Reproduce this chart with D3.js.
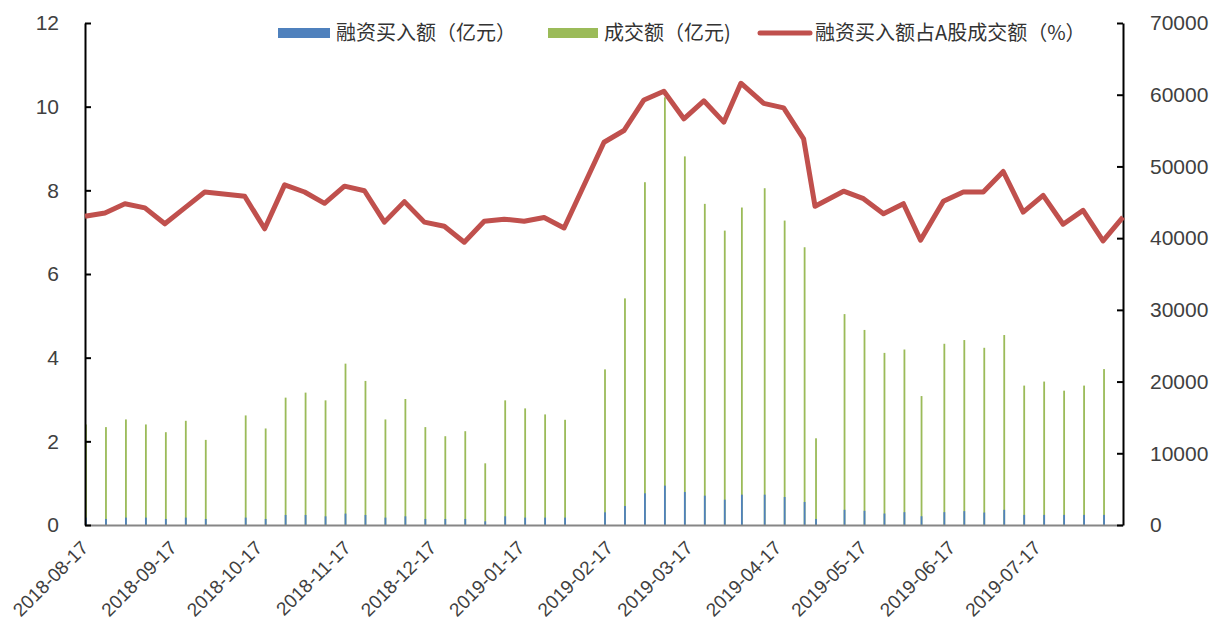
<!DOCTYPE html>
<html>
<head>
<meta charset="utf-8">
<script src="https://cdn.jsdelivr.net/npm/d3@7"></script>
<style>
  body { margin: 0; background: #fff; }
  svg { display: block; }
  .tick text { font-family: "Liberation Sans", Arial, sans-serif; fill: #404040; }
</style>
</head>
<body>
<div id="chart"></div>
<script>
// weekly data (Fridays, holiday weeks shifted / skipped)
var dates = ["2018-08-17","2018-08-24","2018-08-31","2018-09-07","2018-09-14","2018-09-21","2018-09-28",
  "2018-10-12","2018-10-19","2018-10-26","2018-11-02","2018-11-09","2018-11-16","2018-11-23","2018-11-30",
  "2018-12-07","2018-12-14","2018-12-21","2018-12-28","2019-01-04","2019-01-11","2019-01-18","2019-01-25","2019-02-01",
  "2019-02-15","2019-02-22","2019-03-01","2019-03-08","2019-03-15","2019-03-22","2019-03-29","2019-04-04","2019-04-12","2019-04-19","2019-04-26","2019-04-30",
  "2019-05-10","2019-05-17","2019-05-24","2019-05-31","2019-06-06","2019-06-14","2019-06-21","2019-06-28",
  "2019-07-05","2019-07-12","2019-07-19","2019-07-26","2019-08-02","2019-08-09","2019-08-16"];

// 成交额（亿元）
var turnover = [14020,13650,14720,14020,12940,14530,11870,
  15280,13460,17760,18460,17380,22500,20090,14720,
  17570,13650,12380,13080,8600,17380,16260,15420,14670,
  21700,31600,47800,59640,51400,44780,41050,44270,46960,42450,38730,12090,
  29410,27200,24000,24470,17980,25270,25790,24710,
  26490,19440,20000,18730,19440,21740,null];

// 融资买入额（亿元）
var marginBuy = [1030,840,1030,1030,840,1030,840,
  1030,840,1400,1400,1210,1590,1400,1030,
  1210,840,840,840,510,1210,1030,1030,1030,
  1770,2650,4420,5490,4600,4090,3530,4230,4230,3900,3210,840,
  2120,1980,1600,1790,1220,1790,1930,1740,
  2120,1410,1410,1410,1410,1410,null];

// 融资买入额占A股成交额（%）
var ratio = [7.38,7.46,7.68,7.58,7.20,7.58,7.96,
  7.86,7.08,8.13,7.96,7.69,8.10,7.99,7.24,
  7.73,7.24,7.14,6.76,7.26,7.31,7.26,7.35,7.10,
  9.15,9.43,10.16,10.37,9.71,10.14,9.63,10.56,10.08,9.97,9.23,7.62,
  7.98,7.80,7.44,7.68,6.81,7.74,7.96,7.96,
  8.45,7.48,7.88,7.19,7.52,6.79,7.36];

var leftTicks = [0,2,4,6,8,10,12];
var rightTicks = [0,10000,20000,30000,40000,50000,60000,70000];
var monthLabels = ["2018-08-17","2018-09-17","2018-10-17","2018-11-17","2018-12-17","2019-01-17",
  "2019-02-17","2019-03-17","2019-04-17","2019-05-17","2019-06-17","2019-07-17"];
var seriesNames = ["融资买入额（亿元）","成交额（亿元)","融资买入额占A股成交额（%）"];

var width = 1220, height = 622;
var margin = {top: 23, right: 97, bottom: 97, left: 85};
var parse = d3.timeParse("%Y-%m-%d");
var fmt = d3.timeFormat("%Y-%m-%d");

var data = dates.map(function(d, i) {
  return {date: parse(d), turnover: turnover[i], margin: marginBuy[i], ratio: ratio[i]};
});

var svg = d3.select("#chart").append("svg")
  .attr("width", width)
  .attr("height", height);

var x = d3.scaleTime()
  .domain([parse("2018-08-17"), parse("2019-08-16")])
  .range([margin.left, width - margin.right]);

var yL = d3.scaleLinear().domain([0, 12]).range([height - margin.bottom, margin.top]);
var yR = d3.scaleLinear().domain([0, 70000]).range([height - margin.bottom, margin.top]);

var barW = 1.8;

// green bars
svg.append("g").selectAll("rect")
  .data(data.filter(function(d) { return d.turnover != null; }))
  .enter()
  .append("rect")
  .attr("x", function(d) { return x(d.date) - barW / 2 + 1; })
  .attr("y", function(d) { return yR(d.turnover); })
  .attr("width", barW)
  .attr("height", function(d) { return yR(0) - yR(d.turnover); })
  .style("fill", "#9BBB59");

// blue bars
svg.append("g").selectAll("rect")
  .data(data.filter(function(d) { return d.margin != null; }))
  .enter()
  .append("rect")
  .attr("x", function(d) { return x(d.date) - barW / 2 + 1; })
  .attr("y", function(d) { return yR(d.margin); })
  .attr("width", barW)
  .attr("height", function(d) { return yR(0) - yR(d.margin); })
  .style("fill", "#4F81BD");

// x axis line + rotated month labels
var xAxis = svg.append("g")
  .attr("transform", "translate(0," + (height - margin.bottom) + ")")
  .call(d3.axisBottom(x).tickValues(monthLabels.map(parse)).tickSize(0).tickFormat(fmt));
xAxis.select(".domain").attr("stroke", "#868686").attr("stroke-width", 2);
xAxis.selectAll(".tick text")
  .style("font-size", "19px")
  .attr("text-anchor", "end")
  .attr("dy", null)
  .attr("y", 0)
  .attr("transform", "translate(4,24) rotate(-45)");

// left axis
var leftAxis = svg.append("g")
  .attr("transform", "translate(" + margin.left + ",0)")
  .call(d3.axisLeft(yL).tickValues(leftTicks).tickSizeInner(-6).tickSizeOuter(0).tickPadding(26));
leftAxis.selectAll(".tick text").style("font-size", "21px");
leftAxis.select(".domain").attr("stroke", "#000").attr("stroke-width", 2);
leftAxis.selectAll(".tick line").attr("stroke", "#000").attr("stroke-width", 2);

// right axis
var rightAxis = svg.append("g")
  .attr("transform", "translate(" + (width - margin.right) + ",0)")
  .call(d3.axisRight(yR).tickValues(rightTicks).tickFormat(d3.format("d"))
    .tickSizeInner(-6).tickSizeOuter(0).tickPadding(27));
rightAxis.selectAll(".tick text").style("font-size", "21px");
rightAxis.select(".domain").attr("stroke", "#000").attr("stroke-width", 2);
rightAxis.selectAll(".tick line").attr("stroke", "#000").attr("stroke-width", 2);

// ratio line
var line = d3.line()
  .x(function(d) { return x(d.date); })
  .y(function(d) { return yL(d.ratio); });

svg.append("path")
  .datum(data)
  .attr("d", line)
  .style("fill", "none")
  .style("stroke", "#C0504D")
  .style("stroke-width", 5)
  .style("stroke-linejoin", "round");

// legend
var legend = svg.append("g").style("font-family", "'Noto Sans CJK SC', sans-serif").style("font-size", "20px").style("fill", "#333");
legend.append("rect").attr("x", 278).attr("y", 28).attr("width", 52).attr("height", 10).style("fill", "#4F81BD");
legend.append("text").attr("x", 336).attr("y", 40).text(seriesNames[0]);
legend.append("rect").attr("x", 548).attr("y", 28).attr("width", 50).attr("height", 10).style("fill", "#9BBB59");
legend.append("text").attr("x", 604).attr("y", 40).text(seriesNames[1]);
legend.append("line").attr("x1", 760).attr("x2", 810).attr("y1", 33).attr("y2", 33)
  .style("stroke", "#C0504D").style("stroke-width", 5).style("stroke-linecap", "round");
legend.append("text").attr("x", 815).attr("y", 40).text(seriesNames[2]);
</script>
</body>
</html>
